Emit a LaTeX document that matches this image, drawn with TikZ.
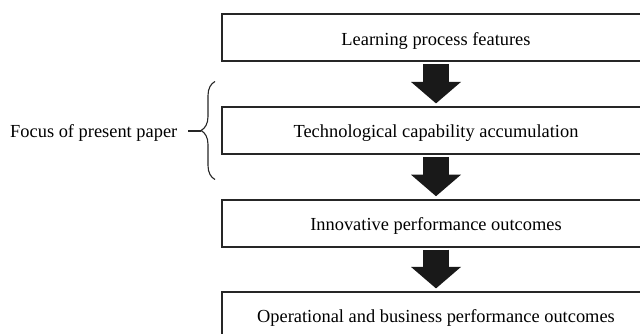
\documentclass[tikz,border=0pt]{standalone}
\usepackage{fontspec}
\setmainfont{Liberation Serif}
\usetikzlibrary{arrows.meta,decorations.pathreplacing,calc}

\tikzset{
  stage/.style={draw=black!85, line width=2pt, fill=white,
    minimum width=429pt, minimum height=47pt, inner sep=0pt,
    font=\fontsize{18.4}{22}\selectfont, text height=14.8pt, text depth=0pt},
  flow/.style={black!90, line width=26pt, shorten <=2pt, shorten >=2.5pt,
    -{Triangle[width=50pt,length=21.5pt,line width=0pt]}},
  note/.style={font=\fontsize{18.4}{22}\selectfont, inner sep=0pt,
    text height=13pt, text depth=0pt},
  bracket/.style={black!85, line width=1.1pt,
    decorate, decoration={brace, amplitude=14pt}}
}

\begin{document}
\begin{tikzpicture}[x=1pt, y=-1pt]
  \useasboundingbox (0,0) rectangle (640,334);
  \clip (0,0) rectangle (640,334);

  % the four stages of the chain
  \node[stage] (learn) at (436,37.8)  {Learning process features};
  \node[stage] (tech)  at (436,130.4) {Technological capability accumulation};
  \node[stage] (innov) at (436,223.2) {Innovative performance outcomes};
  \node[stage] (oper)  at (436,315.4) {Operational and business performance outcomes};

  % block arrows between stages
  \draw[flow] (learn.south) -- (tech.north);
  \draw[flow] (tech.south)  -- (innov.north);
  \draw[flow] (innov.south) -- (oper.north);

  % brace marking the focus of the paper
  \coordinate (braceLow)  at (215,179.5);
  \coordinate (braceHigh) at (215,81.5);
  \coordinate (braceTip)  at (200.5,131);
  \draw[bracket] (braceLow) -- (braceHigh);

  \node[note, anchor=east] (focus) at (177.5,131) {Focus of present paper};
  \draw[black!85, line width=1.1pt, shorten <=10.5pt] (focus.east) -- (braceTip);
\end{tikzpicture}
\end{document}
